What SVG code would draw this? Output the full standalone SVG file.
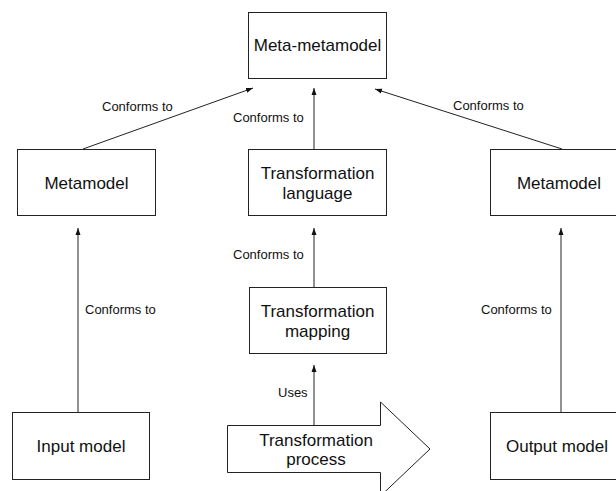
<svg xmlns="http://www.w3.org/2000/svg" width="616" height="491" viewBox="0 0 616 491">
<style>
.box{fill:#fff;stroke:#222;stroke-width:1}
.n{font-family:"Liberation Sans",Arial,sans-serif;font-size:17px;fill:#111;text-anchor:middle}
.l{font-family:"Liberation Sans",Arial,sans-serif;font-size:13px;fill:#111}
.c{stroke:#222;stroke-width:1;fill:none;marker-end:url(#ah)}
</style>
<defs>
<marker id="ah" markerUnits="userSpaceOnUse" markerWidth="7" markerHeight="6" refX="7" refY="3" orient="auto">
<path d="M0,0.5 L7,3 L0,5.5 z" fill="#111"/>
</marker>
</defs>
<rect width="616" height="491" fill="#fff"/>
<g id="connectors">
<line class="c" x1="83" y1="149" x2="253" y2="88"/>
<line class="c" x1="314" y1="149" x2="314" y2="88"/>
<line class="c" x1="562" y1="149" x2="375" y2="89"/>
<line class="c" x1="314" y1="287" x2="314" y2="228"/>
<line class="c" x1="314" y1="425" x2="314" y2="365"/>
<line class="c" x1="78" y1="412" x2="78" y2="228"/>
<line class="c" x1="561" y1="412" x2="561" y2="228"/>
<text class="l" x="102" y="111">Conforms to</text>
<text class="l" x="233" y="122">Conforms to</text>
<text class="l" x="453" y="110">Conforms to</text>
<text class="l" x="233" y="259">Conforms to</text>
<text class="l" x="85" y="314">Conforms to</text>
<text class="l" x="481" y="314">Conforms to</text>
<text class="l" x="278" y="397">Uses</text>
</g>
<g id="meta-metamodel">
<rect class="box" x="248.5" y="12.5" width="138" height="66"/>
<text class="n" x="317.5" y="51">Meta-metamodel</text>
</g>
<g id="metamodel-left">
<rect class="box" x="17.5" y="149.5" width="138" height="66"/>
<text class="n" x="86.5" y="189">Metamodel</text>
</g>
<g id="transformation-language">
<rect class="box" x="248.5" y="149.5" width="138" height="66"/>
<text class="n" x="317.5" y="179">Transformation</text>
<text class="n" x="317.5" y="199">language</text>
</g>
<g id="metamodel-right">
<rect class="box" x="490.5" y="149.5" width="138" height="66"/>
<text class="n" x="559" y="189">Metamodel</text>
</g>
<g id="transformation-mapping">
<rect class="box" x="249.5" y="287.5" width="137" height="66"/>
<text class="n" x="317.5" y="317">Transformation</text>
<text class="n" x="317.5" y="337">mapping</text>
</g>
<g id="input-model">
<rect class="box" x="12.5" y="412.5" width="137" height="67"/>
<text class="n" x="81" y="452">Input model</text>
</g>
<g id="transformation-process">
<path class="box" d="M227.5,425.5 H380.5 V402 L430,449 L380.5,496 V472.5 H227.5 Z"/>
<text class="n" x="316" y="446">Transformation</text>
<text class="n" x="316" y="465">process</text>
</g>
<g id="output-model">
<rect class="box" x="490.5" y="412.5" width="138" height="67"/>
<text class="n" x="557" y="452">Output model</text>
</g>
</svg>
